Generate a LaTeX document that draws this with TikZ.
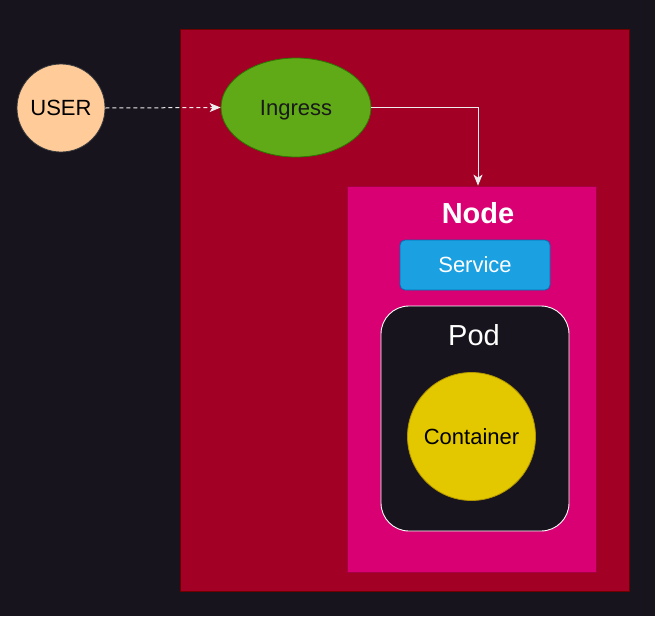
\documentclass[tikz,border=0pt]{standalone}
\usepackage{fontspec}
\setmainfont{Liberation Sans}
\usetikzlibrary{arrows.meta,shapes.geometric}
\definecolor{bg}{HTML}{18141D}
\definecolor{kred}{HTML}{A20025}
\definecolor{kredline}{HTML}{6F0000}
\definecolor{kpink}{HTML}{D80073}
\definecolor{kpinkline}{HTML}{A50040}
\definecolor{kblue}{HTML}{1BA1E2}
\definecolor{kblueline}{HTML}{006EAF}
\definecolor{kgreen}{HTML}{60A917}
\definecolor{kgreenline}{HTML}{2D7600}
\definecolor{kyellow}{HTML}{E3C800}
\definecolor{kyellowline}{HTML}{B09500}
\definecolor{kpeach}{HTML}{FFCC99}
\definecolor{kpeachline}{HTML}{36393D}
\definecolor{wire}{HTML}{EEEEEE}
\tikzset{
  txt/.style={font=\fontsize{22}{26}\selectfont, inner sep=0pt},
  big/.style={font=\fontsize{29}{34}\selectfont, inner sep=0pt},
  conn/.style={draw=wire, line width=1pt, -{Stealth[length=11pt,width=9pt,inset=3pt]}},
}
\begin{document}
\begin{tikzpicture}[x=1pt,y=-1pt]
\useasboundingbox[fill=bg] (0,0) rectangle (655,616);
% cluster
\draw[fill=kred, draw=kredline, line width=0.8pt] (180,29) rectangle (629,591);
% node
\node[draw=kpinkline, fill=kpink, line width=0.8pt, minimum width=249pt, minimum height=386pt, inner sep=0pt] (node) at (471.5,379) {};
\node[big, font=\fontsize{29}{34}\selectfont\bfseries, text=white] (nodelbl) at (478,213) {Node};
% service
\node[draw=kblueline, fill=kblue, line width=0.8pt, rounded corners=5pt, minimum width=150pt, minimum height=50pt, txt, text=white] (service) at (475,265) {Service};
% pod
\node[draw=white, fill=bg, line width=0.9pt, rounded corners=28pt, minimum width=188pt, minimum height=225pt, inner sep=0pt] (pod) at (475,418.5) {};
\node[big, text=white] (podlbl) at (474,335) {Pod};
% container
\node[circle, draw=kyellowline, fill=kyellow, line width=0.8pt, minimum size=128pt, txt, text=black] (container) at (471.5,436.5) {Container};
% user
\node[circle, draw=kpeachline, fill=kpeach, line width=0.8pt, minimum size=88pt, txt, text=black] (user) at (61,108) {USER};
% ingress
\node[ellipse, draw=kgreenline, fill=kgreen, line width=0.8pt, minimum width=150pt, minimum height=99pt, txt, text depth=0pt, text=black!90] (ingress) at (296,107.5) {Ingress};
% connectors
\draw[conn, dashed, dash pattern=on 4pt off 3pt] (user.east) -- (ingress.west);
\draw[conn] (ingress.east) -| (node.north -| nodelbl.south);
\end{tikzpicture}
\end{document}
